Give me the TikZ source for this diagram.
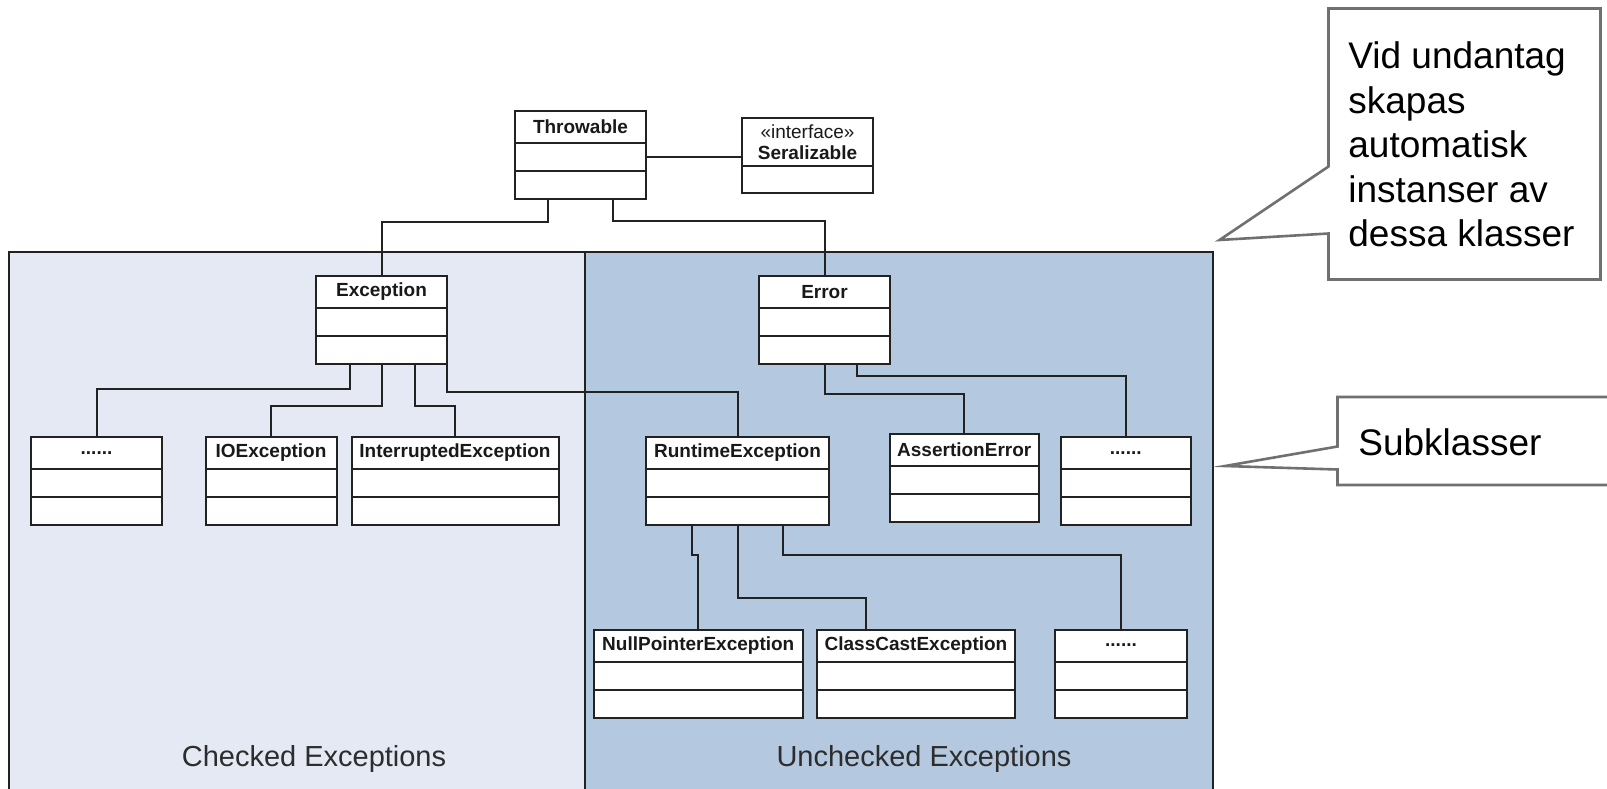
\documentclass[tikz,border=0pt]{standalone}
\usepackage{fontspec}
\setmainfont{Liberation Sans}
\usetikzlibrary{calc}

\definecolor{chkfill}{RGB}{228,233,243}
\definecolor{unchkfill}{RGB}{180,201,223}
\definecolor{linedark}{RGB}{34,34,34}
\definecolor{callgray}{RGB}{112,112,112}
\definecolor{paneltext}{RGB}{45,45,45}

% a UML class: title compartment plus two empty compartments
% #1 name, #2 left, #3 top, #4 width (px), #5 title
\newcommand\umlclass[5]{%
  \node[clstitle, minimum width={#4*0.5pt}, anchor=north west] (#1) at (#2,#3) {#5};
  \node[clscomp, minimum width={#4*0.5pt}, anchor=north] (#1-a) at (#1.south) {};
  \node[clscomp, minimum width={#4*0.5pt}, anchor=north] (#1-b) at (#1-a.south) {};
}

\tikzset{
  clsbox/.style={rectangle, draw=linedark, fill=white, line width=1pt, inner sep=0pt, outer sep=0pt},
  clstitle/.style={clsbox, minimum height=16pt, text=black!90, font=\fontsize{9.5}{11}\selectfont\bfseries},
  clscomp/.style={clsbox, minimum height=14pt},
  conn/.style={draw=linedark, line width=1pt},
  panelbox/.style={rectangle, draw=linedark, line width=1pt, inner sep=0pt, outer sep=0pt},
  paneltxt/.style={font=\fontsize{14.5}{17}\selectfont, text=paneltext},
  callout/.style={draw=callgray, fill=white, line width=1.3pt, line join=miter},
  calltext/.style={font=\fontsize{18.5}{22.25}\selectfont, text=black, inner sep=0pt, align=left}
}

\begin{document}
\begin{tikzpicture}[x=0.5pt, y=-0.5pt]
\useasboundingbox (0,0) rectangle (1607,788);
\fill[white] (0,0) rectangle (1607,788);

% the two regions
\node[panelbox, fill=chkfill, minimum width=288pt, minimum height=274pt, anchor=north west] (chk) at (8.5,252) {};
\node[panelbox, fill=unchkfill, minimum width=314pt, minimum height=274pt, anchor=north west] (unchk) at (584.5,252) {};
\node[paneltxt] (chklbl) at (314,759) {Checked Exceptions};
\node[paneltxt] (unchklbl) at (924,759) {Unchecked Exceptions};

% classes
\umlclass{thr}{515}{111}{131}{Throwable}
\node[clsbox, minimum width=65.5pt, minimum height=24pt, anchor=north west, align=center,
      text=black!90, font=\fontsize{9.5}{10.5}\selectfont] (ser) at (742,118) {«interface»\\\textbf{Seralizable}};
\node[clscomp, minimum width=65.5pt, minimum height=13.5pt, anchor=north] (ser-a) at (ser.south) {};

\umlclass{exc}{316}{276}{131}{Exception}
\umlclass{err}{759}{276}{131}{Error}

\umlclass{dots1}{31}{437}{131}{......}
\umlclass{io}{205.5}{437}{131}{IOException}
\umlclass{intr}{351.5}{437}{207}{InterruptedException}
\umlclass{rt}{646}{437}{183}{RuntimeException}
\umlclass{ae}{890}{434}{148.5}{AssertionError}
\umlclass{dots2}{1060.5}{437}{130.5}{......}

\umlclass{npe}{594}{629.5}{208.5}{NullPointerException}
\umlclass{cce}{817}{629.5}{198}{ClassCastException}
\umlclass{dots3}{1055}{629.5}{132}{......}

% connectors
\draw[conn] (thr-a.east) -- (thr-a.east -| ser.west);
\draw[conn] ($(thr-b.south)+(-32.5,0)$) -- ++(0,23) -| (exc.north);
\draw[conn] ($(thr-b.south)+(32.5,0)$) -- ++(0,22) -| (err.north);

\draw[conn] ($(exc-b.south)+(-32,0)$) -- ++(0,25) -| (dots1.north);
\draw[conn] (exc-b.south) -- ++(0,42) -| (io.north);
\draw[conn] ($(exc-b.south)+(33,0)$) -- ++(0,42) -| (intr.north);
\draw[conn] ($(exc-b.south east)+(0,-20)$) -- ++(0,48) -| (rt.north);

\draw[conn] (err-b.south) -- ++(0,30) -| (ae.north);
\draw[conn] ($(err-b.south)+(32.5,0)$) -- ++(0,11.5) -| (dots2.north);

\draw[conn] ($(rt-b.south)+(-45.5,0)$) -- ++(0,29.5) -| (npe.north);
\draw[conn] (rt-b.south) -- ++(0,73) -| ($(cce.north west)+(49,0)$);
\draw[conn] ($(rt-b.south)+(45.5,0)$) -- ++(0,30) -| (dots3.north);

% speech-bubble notes
\draw[callout] (1328.5,8.5) -- (1600.5,8.5) -- (1600.5,279.5) -- (1328.5,279.5)
  -- (1328.5,233.5) -- (1219.5,240) -- (1328.5,166.5) -- cycle;
\node[calltext, anchor=base west] (note1) at (1348,246.5)
  {Vid undantag\\skapas\\automatisk\\instanser av\\dessa klasser};

\draw[callout] (1620,397) -- (1337.5,397) -- (1337.5,446.5) -- (1225,466)
  -- (1337.5,469.5) -- (1337.5,485) -- (1620,485);
\node[calltext, anchor=base west] (note2) at (1358,455) {Subklasser};
\end{tikzpicture}
\end{document}
